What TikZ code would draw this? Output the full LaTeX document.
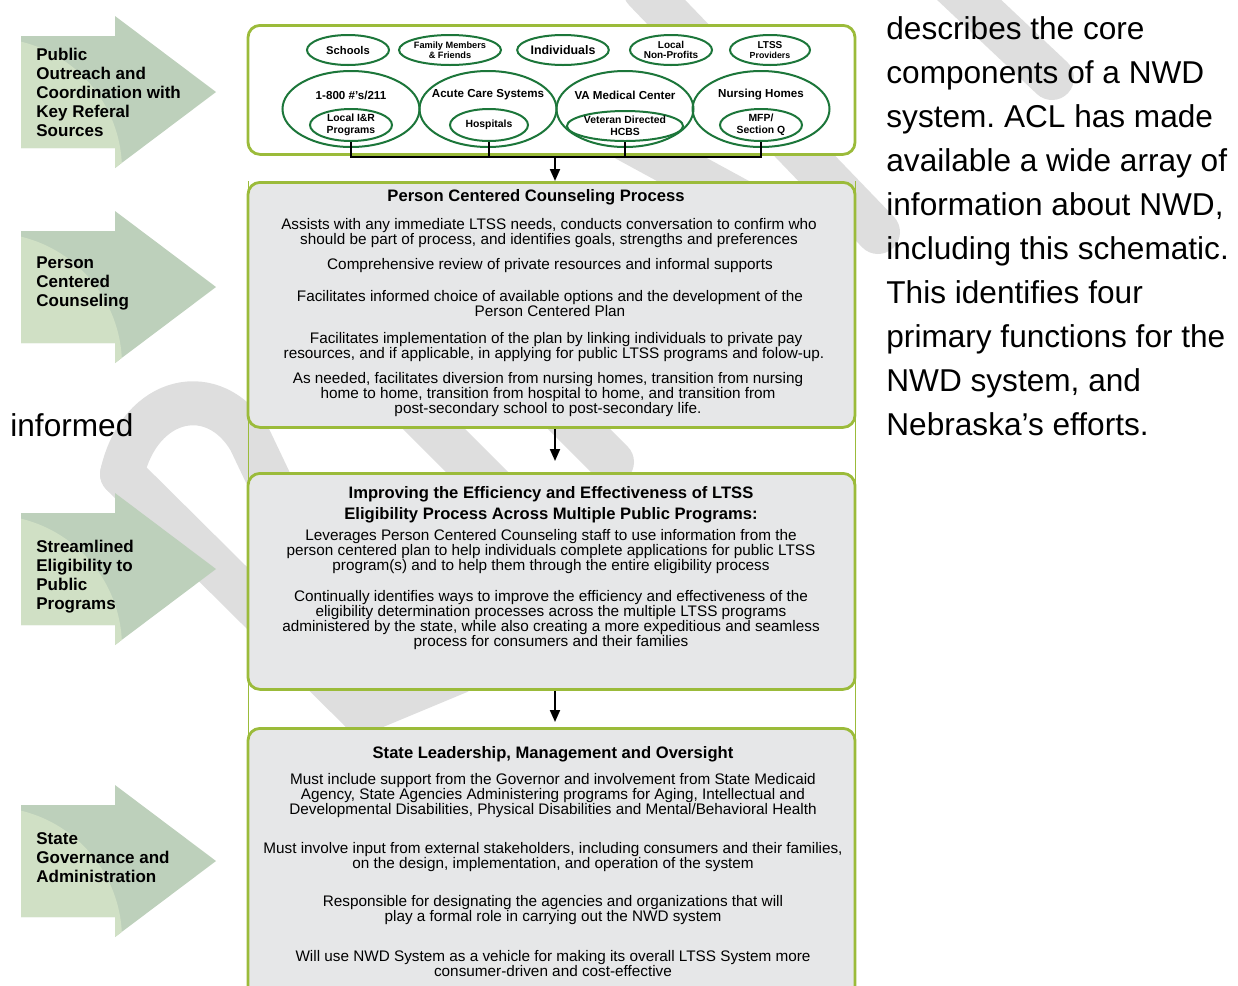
\documentclass[tikz,border=0pt]{standalone}
\usepackage{fontspec}
\setmainfont{Liberation Sans}
\frenchspacing
\usetikzlibrary{shapes.geometric,arrows.meta,positioning}

\definecolor{verdeoliva}{RGB}{155,187,58}
\definecolor{verdescuro}{RGB}{28,118,58}
\definecolor{grigiobox}{RGB}{230,231,232}
\definecolor{frecciachiara}{RGB}{208,224,197}
\definecolor{frecciascura}{RGB}{189,208,187}
\definecolor{filigrana}{RGB}{222,222,222}

\tikzset{
  oval/.style={ellipse,draw=verdescuro,line width=1pt,inner sep=0pt,align=center},
  panel/.style={draw=verdeoliva,line width=1.4pt,rounded corners=6pt,minimum width=303.5pt,anchor=north},
  testo/.style={font=\fontsize{7.65}{7.5}\selectfont,align=center,inner sep=0pt},
  titolo/.style={font=\bfseries\fontsize{8.3}{10.5}\selectfont,align=center,inner sep=0pt},
  etichetta/.style={font=\bfseries\fontsize{8.5}{9.5}\selectfont,align=left,anchor=west,inner sep=0pt},
  freccia/.style={line width=1pt,-{Triangle[length=6pt,width=5pt]}},
  segno/.style={filigrana,line width=22pt,line cap=round,line join=round}
}

\begin{document}
\begin{tikzpicture}[x=0.5pt,y=-0.5pt]
  \useasboundingbox (0,0) rectangle (1238,986);
  %filigrana
  \draw[segno] (122,474) -- (362,712);
  \draw[segno] (122,474) .. controls (140,395) and (215,380) .. (250,440) -- (350,650) .. controls (362,685) and (372,712) .. (362,712) -- (458,672);
  \draw[segno] (330,325) -- (545,540);
  \draw[segno] (520,370) -- (612,462);
  \draw[segno] (600,125) -- (760,212);
  \draw[segno] (645,-10) -- (878,232);
  \draw[segno] (948,-20) -- (1052,78);

  %frecce verdi
  \foreach \c in {92,287,569,861} {
    \begin{scope}
      \clip (21,\c-56) -- (115,\c-56) -- (115,\c-76) -- (216,\c) -- (115,\c+76) -- (115,\c+56) -- (21,\c+56) -- cycle;
      \fill[frecciascura] (0,\c-80) rectangle (220,\c+80);
      \fill[frecciachiara] (-10,\c+78) circle[radius=132];
    \end{scope}
  }
  \node[etichetta] (outreach) at (36,92) {Public\\Outreach and\\Coordination with\\Key Referal\\Sources};
  \node[etichetta] (counsel) at (36,283.5) {Person\\Centered\\Counseling};
  \node[etichetta] (stream) at (36,577) {Streamlined\\Eligibility to\\Public\\Programs};
  \node[etichetta] (govern) at (36,857.5) {State\\Governance and\\Administration};

  %cornice sottile
  \draw[verdeoliva,line width=0.5pt] (248,181) -- (248,990);
  \draw[verdeoliva,line width=0.5pt] (855,181) -- (855,990);

  %riquadro fonti
  \node[panel,fill=white,minimum height=64.5pt] (sources) at (551.5,24) {};
  \node[oval,minimum width=41pt,minimum height=15pt,font=\bfseries\fontsize{5.6}{6}\selectfont] (schools) at (348,50) {Schools};
  \node[oval,minimum width=40pt,minimum height=15pt,font=\bfseries\fontsize{4.6}{5.2}\selectfont] (family) at (450,50) {Family Members\\\& Friends};
  \node[oval,minimum width=43pt,minimum height=15pt,font=\bfseries\fontsize{6.2}{7}\selectfont] (indiv) at (563,50) {Individuals};
  \node[oval,minimum width=41pt,minimum height=15pt,font=\bfseries\fontsize{5}{5.4}\selectfont] (nonprof) at (671,50) {Local\\Non-Profits};
  \node[oval,minimum width=40pt,minimum height=15pt,font=\bfseries\fontsize{5}{5.4}\selectfont] (ltss) at (770,50) {LTSS\\{\fontsize{4.4}{5}\selectfont Providers}};
  \foreach \x/\n/\t in {351/hot/{1-800 \#'s/211},488/acute/{Acute Care Systems},625/va/{VA Medical Center},761/nurs/{Nursing Homes}} {
    \node[oval,minimum width=68.5pt,minimum height=38pt] (\n) at (\x,109) {};
    \node[font=\bfseries\fontsize{5.8}{6.5}\selectfont,inner sep=0pt] (\n lbl) at (\x,95) {\t};
  }
  \node[oval,minimum width=41pt,minimum height=16pt,font=\bfseries\fontsize{5.2}{6}\selectfont] (lir) at (351,125) {Local I\&R\\Programs};
  \node[oval,minimum width=39pt,minimum height=16pt,font=\bfseries\fontsize{5.2}{6}\selectfont] (hosp) at (489,125) {Hospitals};
  \node[oval,minimum width=48pt,minimum height=15pt,font=\bfseries\fontsize{5.2}{6}\selectfont] (vdh) at (625,126) {Veteran Directed\\HCBS};
  \node[oval,minimum width=41pt,minimum height=16pt,font=\bfseries\fontsize{5.2}{6}\selectfont] (mfp) at (761,125) {MFP/\\Section Q};

  %collegamenti
  \coordinate (jn) at (555,157);
  \draw[line width=1pt] (lir.south) |- (jn) -| (mfp.south);
  \draw[line width=1pt] (hosp.south) -- (hosp.south |- jn);
  \draw[line width=1pt] (vdh.south) -- (vdh.south |- jn);

  %riquadri
  \node[panel,fill=grigiobox,minimum height=122.5pt] (pcc) at (551.5,181) {};
  \node[panel,fill=grigiobox,minimum height=108pt] (elig) at (551.5,472) {};
  \node[panel,fill=grigiobox,minimum height=140pt] (gov) at (551.5,727) {};

  \draw[freccia] (jn) -- (jn |- pcc.north);
  \draw[freccia] (pcc.south -| jn) -- ([yshift=5.5pt]elig.north -| jn);
  \draw[freccia] (elig.south -| jn) -- ([yshift=2.5pt]gov.north -| jn);

  %testo pcc
  \node[titolo] (pcc0) at (536,197) {Person Centered Counseling Process};
  \node[testo] (pcc1) at (549,233) {Assists with any immediate LTSS needs, conducts conversation to confirm who\\should be part of process, and identifies goals, strengths and preferences};
  \node[testo] (pcc2) at (550,266) {Comprehensive review of private resources and informal supports};
  \node[testo] (pcc3) at (550,303.5) {Facilitates informed choice of available options and the development of the\\Person Centered Plan};
  \node[testo] (pcc4) at (554,347) {\ Facilitates implementation of the plan by linking individuals to private pay\\resources, and if applicable, in applying for public LTSS programs and folow-up.};
  \node[testo] (pcc5) at (548,395) {As needed, facilitates diversion from nursing homes, transition from nursing\\home to home, transition from hospital to home, and transition from\\post-secondary school to post-secondary life.};

  %testo elig
  \node[titolo] (elig0) at (551,504.5) {Improving the Efficiency and Effectiveness of LTSS\\Eligibility Process Across Multiple Public Programs:};
  \node[testo] (elig1) at (551,552) {Leverages Person Centered Counseling staff to use information from the\\person centered plan to help individuals complete applications for public LTSS\\program(s) and to help them through the entire eligibility process};
  \node[testo] (elig2) at (551,620.5) {Continually identifies ways to improve the efficiency and effectiveness of the\\eligibility determination processes across the multiple LTSS programs\\administered by the state, while also creating a more expeditious and seamless\\process for consumers and their families};

  %testo gov
  \node[titolo] (gov0) at (553,754) {State Leadership, Management and Oversight};
  \node[testo] (gov1) at (553,796) {Must include support from the Governor and involvement from State Medicaid\\Agency, State Agencies Administering programs for Aging, Intellectual and\\Developmental Disabilities, Physical Disabilities and Mental/Behavioral Health};
  \node[testo] (gov2) at (553,857.5) {Must involve input from external stakeholders, including consumers and their families,\\on the design, implementation, and operation of the system};
  \node[testo] (gov3) at (553,910.5) {Responsible for designating the agencies and organizations that will\\play a formal role in carrying out the NWD system};
  \node[testo] (gov4) at (553,963.5) {Will use NWD System as a vehicle for making its overall LTSS System more\\consumer-driven and cost-effective};

  %testo pagina
  \node[font=\fontsize{15.8}{22}\selectfont,align=left,anchor=west,inner sep=0pt] (corpo) at (886,226.5) {describes the core\\components of a NWD\\system. ACL has made\\available a wide array of\\information about NWD,\\including this schematic.\\This identifies four\\primary functions for the\\NWD system, and\\Nebraska’s efforts.};
  \node[font=\fontsize{15.8}{22}\selectfont,anchor=west,inner sep=0pt] (informed) at (10,425) {informed};
\end{tikzpicture}
\end{document}
